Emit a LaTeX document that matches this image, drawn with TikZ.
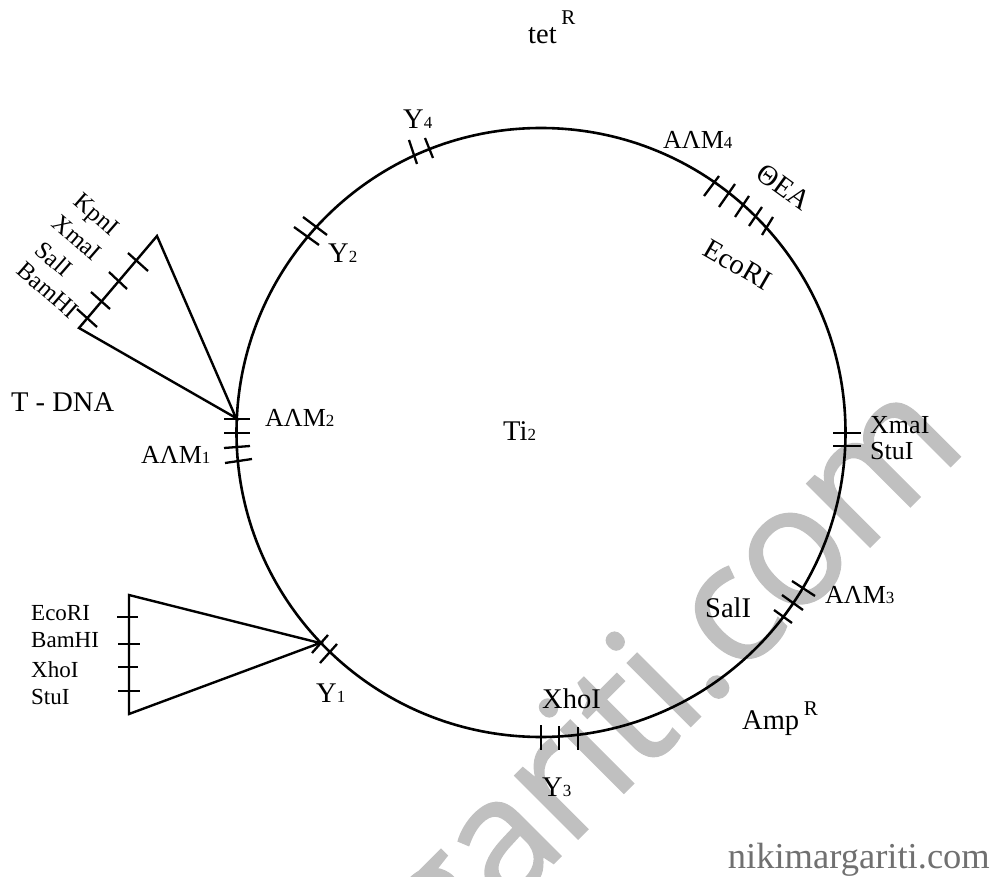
\documentclass[tikz,border=0pt]{standalone}
\usepackage{fontspec}
\setmainfont{Liberation Serif}
\newfontfamily\markfont[FakeBold=1,LetterSpace=-2]{Open Sans}
\usetikzlibrary{positioning}
\definecolor{cmark}{RGB}{192,192,192}
\definecolor{csite}{RGB}{112,112,112}
\newcommand{\sub}[1]{{\fontsize{17}{17}\selectfont #1}}
\newcommand{\sR}{{\fontsize{21}{21}\selectfont R}}
\tikzset{
  ring/.style={circle,draw,line width=2.6pt,minimum size=609pt,inner sep=0pt,outer sep=0pt},
  strand/.style={line width=2.4pt,line join=miter},
  tick/.style={line width=2.3pt},
  lab/.style={anchor=base west,inner sep=0pt,font=\fontsize{28.5}{28.5}\selectfont},
  midlab/.style={lab,font=\fontsize{26}{26}\selectfont},
  smalllab/.style={lab,font=\fontsize{23}{23}\selectfont},
  turned/.style={inner sep=0pt,font=\fontsize{24.5}{24.5}\selectfont},
  watermark/.style={anchor=base east,rotate=45,inner sep=0pt,text=cmark,
    font=\markfont\fontsize{167}{167}\selectfont},
  site/.style={anchor=base east,inner sep=0pt,text=csite,font=\fontsize{36.5}{36.5}\selectfont}
}
\begin{document}
\begin{tikzpicture}[x=1pt,y=-1pt]
  \useasboundingbox (0,0) rectangle (999,877);
  \begin{scope}
    \clip (0,0) rectangle (999,877);
    \node[watermark] (mark) at (970,447) {margariti.com};
  \end{scope}
  \node[ring] (plasmid) at (541,432.5) {};
  % T-DNA insert and polylinker insert
  \coordinate (tA) at (236,418);
  \coordinate (tB) at (157,236);
  \coordinate (tC) at (79,328);
  \coordinate (pA) at (320,643);
  \coordinate (pB) at (129,595);
  \coordinate (pC) at (129,714);
  \draw[strand] (tA) -- (tB) -- (tC) -- cycle;
  \draw[strand] (pA) -- (pB) -- (pC) -- cycle;
  % restriction sites, as end points of each tick
  \foreach \xa/\ya/\xb/\yb in {
    77/309/97/327, 91/292/110/309, 109/272/127/289, 128/253/148/271,
    224/419/250/419, 224/433/250/433, 224/448/250/446, 225/463/252/459,
    303/217/327/235, 294/227/319/245, 409/140/417/164, 425/138/433/158,
    719/176/704/196, 735/184/719/207, 749/196/735/217, 762/207/749/226, 773/217/762/235,
    833/433/861/433, 833/446/861/446,
    792/581/815/596, 782/595/803/610, 774/610/792/623,
    541/725/541/750, 559/726/559/750, 578/727/578/750,
    328/635/312/653, 337/644/320/663,
    117/617/138/617, 118/644/140/644, 118/667/138/667, 118/691/140/691}
    \draw[tick] (\xa,\ya) -- (\xb,\yb);
  % labels on the ring
  \node[lab] (tet) at (528,44) {tet\raisebox{19pt}{\,\sR}};
  \node[lab] (yfour) at (403,129) {Y\sub{4}};
  \node[midlab] (aamfour) at (663,149) {AΛM\sub{4}};
  \node[lab,anchor=center,rotate=-36] (thea) at (784,187) {ΘEA};
  \node[lab,anchor=center,rotate=-30] (ecori) at (738,265) {EcoRI};
  \node[lab] (ytwo) at (328,263) {Y\sub{2}};
  \node[midlab] (aamtwo) at (265,426) {AΛM\sub{2}};
  \node[midlab] (aamone) at (141,463) {AΛM\sub{1}};
  \node[lab] (tdna) at (11,411) {T - DNA};
  \node[lab] (ti) at (503,440) {Ti\sub{2}};
  \node[midlab] (xmai) at (870,433) {XmaI};
  \node[midlab] (stui) at (870,459) {StuI};
  \node[midlab] (aamthree) at (825,603) {AΛM\sub{3}};
  \node[lab] (sali) at (705,617) {SalI};
  \node[lab] (amp) at (742,729) {Amp\raisebox{14pt}{\,\sR}};
  \node[lab] (xhoi) at (542,708) {XhoI};
  \node[lab] (ythree) at (542,796) {Y\sub{3}};
  \node[lab] (yone) at (316,702) {Y\sub{1}};
  % labels of the inserts
  \node[turned,rotate=-41] (kpni) at (95,216) {KpnI};
  \node[turned,rotate=-41] (xmaitop) at (77,238) {XmaI};
  \node[turned,rotate=-41] (salitop) at (54,259) {SalI};
  \node[turned,rotate=-41] (bamtop) at (48,290) {BamHI};
  \node[smalllab] (ecoleft) at (31,620) {EcoRI};
  \node[smalllab] (bamleft) at (31,647) {BamHI};
  \node[smalllab] (xholeft) at (31,677) {XhoI};
  \node[smalllab] (stuleft) at (31,704) {StuI};
  \node[site] (site) at (990,868) {nikimargariti.com};
\end{tikzpicture}
\end{document}
